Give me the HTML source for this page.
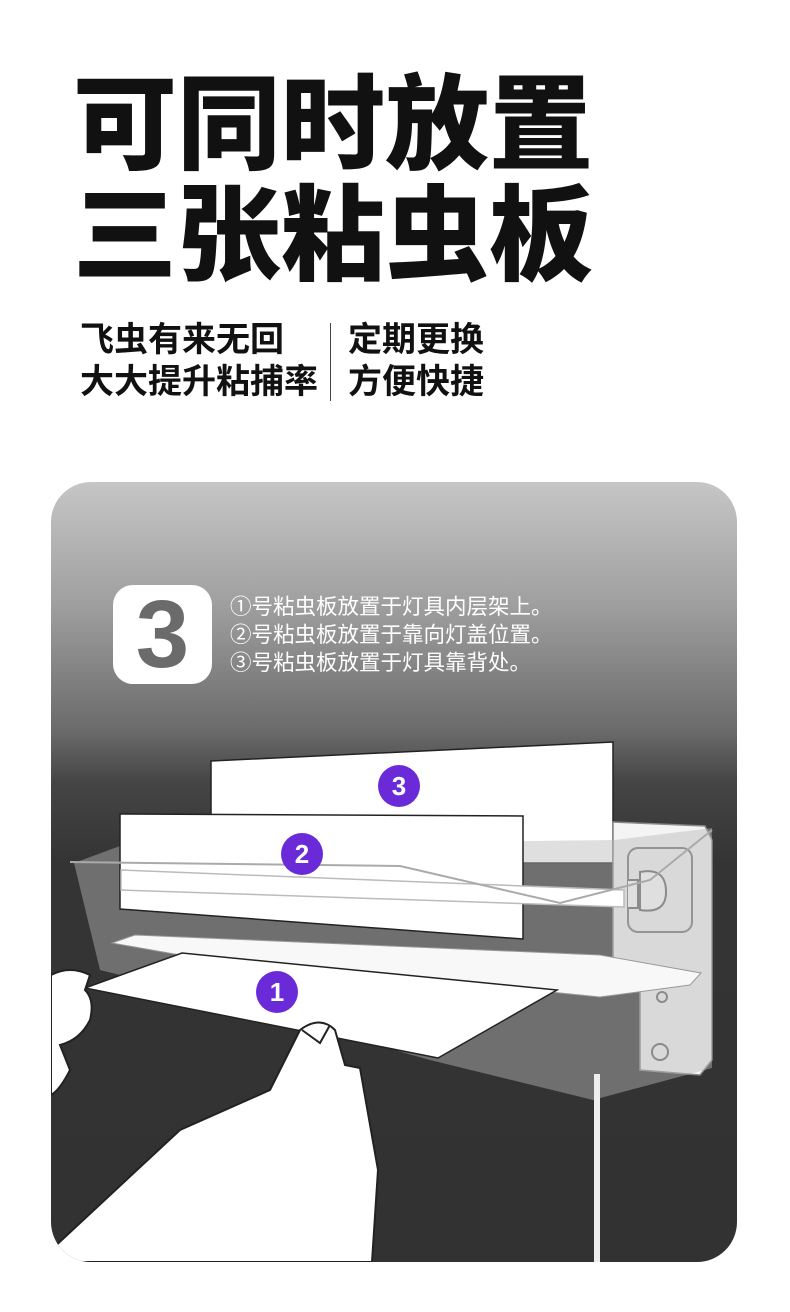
<!DOCTYPE html>
<html><head><meta charset="utf-8">
<style>
html,body{margin:0;padding:0;background:#fff;}
body{width:790px;height:1312px;position:relative;overflow:hidden;font-family:"Liberation Sans","Noto Sans CJK SC",sans-serif;}
.t{position:absolute;left:73px;font-size:104px;font-weight:900;color:#111;line-height:1;letter-spacing:0px;white-space:nowrap;}
.s{position:absolute;font-size:34px;font-weight:700;color:#111;line-height:1;white-space:nowrap;}
.panel{position:absolute;left:51px;top:482px;width:686px;height:780px;border-radius:40px;overflow:hidden;
background:linear-gradient(to bottom,#c6c6c6 0px,#a0a0a0 120px,#6a6a6a 250px,#454545 300px,#343434 380px,#323232 780px);}
.ic{position:absolute;left:62px;top:103px;width:99px;height:99px;background:#fff;border-radius:20px;color:#6b6b6b;font-size:96px;font-weight:900;text-align:center;line-height:99px;}
.tx{position:absolute;left:179px;color:#fff;font-size:21.5px;line-height:1;white-space:nowrap;}
</style></head><body>
<div class="t" style="top:74px">可同时放置</div>
<div class="t" style="top:185px">三张粘虫板</div>
<div class="s" style="left:80px;top:323px">飞虫有来无回</div>
<div class="s" style="left:80px;top:365px">大大提升粘捕率</div>
<div style="position:absolute;left:330px;top:323px;width:1px;height:78px;background:#444"></div>
<div class="s" style="left:348px;top:323px">定期更换</div>
<div class="s" style="left:348px;top:365px">方便快捷</div>
<div class="panel">
<div class="ic">3</div>
<div class="tx" style="top:115px">①号粘虫板放置于灯具内层架上。</div>
<div class="tx" style="top:143px">②号粘虫板放置于靠向灯盖位置。</div>
<div class="tx" style="top:171px">③号粘虫板放置于灯具靠背处。</div>
<svg width="686" height="780" style="position:absolute;left:0;top:0" viewBox="51 482 686 780">
<polygon points="211,761 613,742 613,863 211,863" fill="#fff" stroke="#222" stroke-width="1.5"/>
<polygon points="613,822 705,826 712,840 712,1060 700,1075 640,1070 640,985 613,985" fill="#f4f4f4" stroke="#888" stroke-width="1.5"/>
<rect x="628" y="848" width="64" height="84" rx="10" fill="none" stroke="#777" stroke-width="2"/>
<path d="M628,880 h10 v28 h-10 M640,872 q26,-5 26,20 q0,22 -26,18z" fill="#fff" stroke="#666" stroke-width="2"/>
<circle cx="660" cy="1052" r="8" fill="none" stroke="#666" stroke-width="2"/>
<circle cx="662" cy="997" r="5" fill="none" stroke="#666" stroke-width="2"/>
<polygon points="74,863 120,846 615,840 712,828 712,1068 593,1100 430,1060 180,990 100,970" fill="#b8b8b8" fill-opacity="0.45"/>
<polygon points="112,943 135,935 600,955 701,973 690,985 600,997 180,955" fill="#f8f8f8" stroke="#999" stroke-width="1"/>
<polygon points="120,814 523,816 523,939 120,909" fill="#fff" stroke="#222" stroke-width="1.5"/>
<polygon points="121,870 624,890 624,907 121,890" fill="#fff" stroke="#bbb" stroke-width="1.5"/>
<polyline points="70,862 400,866 560,903 650,880 712,830" fill="none" stroke="#aaa" stroke-width="2"/>
<rect x="594" y="1074" width="6" height="190" fill="#eee"/>
<polygon points="85,988 182,953 557,990 438,1058" fill="#fff" stroke="#222" stroke-width="1.5"/>
<circle cx="399" cy="786" r="21" fill="#6a2ad8"/><text x="399" y="795" fill="#fff" font-size="26" font-weight="700" text-anchor="middle" font-family="Liberation Sans">3</text>
<circle cx="302" cy="854" r="21" fill="#6a2ad8"/><text x="302" y="863" fill="#fff" font-size="26" font-weight="700" text-anchor="middle" font-family="Liberation Sans">2</text>
<circle cx="277" cy="992" r="21" fill="#6a2ad8"/><text x="277" y="1001" fill="#fff" font-size="26" font-weight="700" text-anchor="middle" font-family="Liberation Sans">1</text>
<path d="M51,1250 L180,1130 L270,1090 L300,1030 Q320,1015 335,1030 L345,1065 L360,1068 L378,1170 L372,1262 L51,1262 Z" fill="#fff" stroke="#222" stroke-width="2"/>
<path d="M51,975 Q70,965 90,975 L85,990 Q95,1000 90,1020 Q80,1040 60,1045 L70,1070 Q60,1090 51,1095 Z" fill="#fff" stroke="#222" stroke-width="2"/>
<path d="M302,1030 L320,1043 L330,1025" fill="none" stroke="#222" stroke-width="2"/>
</svg>
</div>
</body></html>
